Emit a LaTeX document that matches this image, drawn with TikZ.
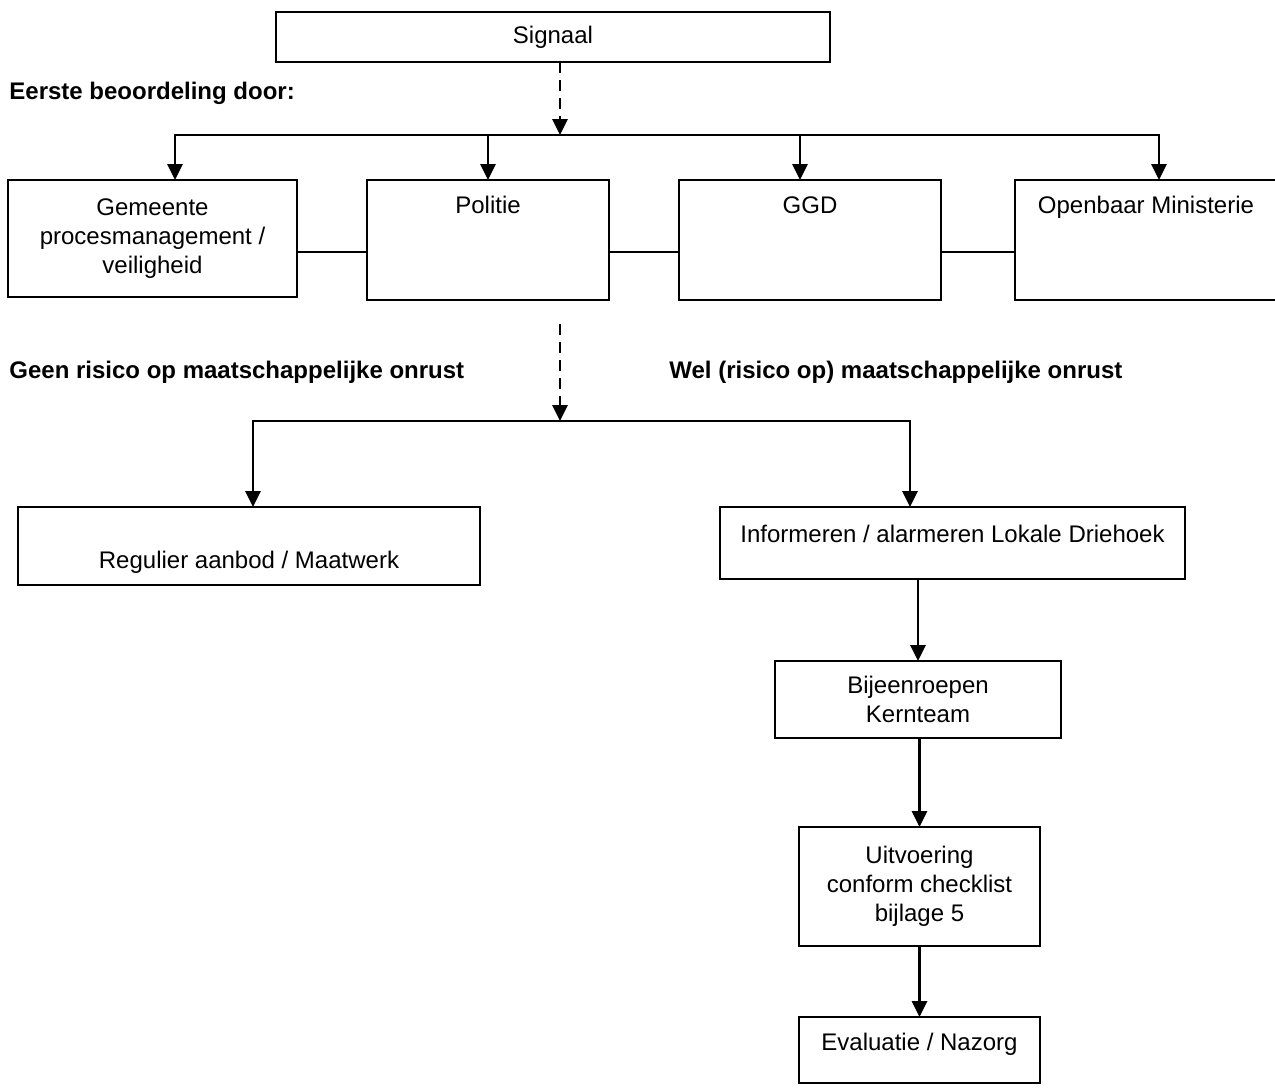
\documentclass[tikz,border=0pt]{standalone}
\usepackage{fontspec}
\setmainfont{Liberation Sans}
\usetikzlibrary{arrows,arrows.meta,positioning,calc}

\begin{document}
\begin{tikzpicture}[->,>={Triangle[width=7.5pt,length=8pt]},x=0.5pt,y=-0.5pt,
				line width=1.4pt]
				\tikzstyle{every node}=[font=\fontsize{12pt}{14.5pt}\selectfont]
				\tikzstyle{box}=[draw,line width=1pt,rectangle,anchor=north west,align=center,inner sep=0pt,outer sep=0pt]
				\tikzstyle{kop}=[anchor=west,inner sep=0pt,font=\fontsize{12pt}{14.5pt}\selectfont\bfseries]
				\tikzstyle{stip}=[dash pattern=on 5.5pt off 3.5pt]
				\useasboundingbox (0,0) rectangle (1275,1088);
				
				\node[box,minimum width=277pt,minimum height=25pt]    (signaal) at (276,12) {Signaal};
				\node[box,minimum width=144.5pt,minimum height=58.5pt] (gemeente) at (8,180) {Gemeente\\procesmanagement /\\veiligheid};
				\node[box,minimum width=121pt,minimum height=60pt]    (politie) at (367,180) {Politie\\~\\[6pt]~};
				\node[box,minimum width=131pt,minimum height=60pt]    (ggd) at (679,180) {GGD\\~\\[6pt]~};
				\node[box,minimum width=131pt,minimum height=60pt]    (om) at (1015,180) {Openbaar Ministerie\\~\\[6pt]~};
				\node[box,minimum width=231pt,minimum height=39pt]    (regulier) at (18,507) {\strut\\Regulier aanbod / Maatwerk};
				\node[box,minimum width=232.5pt,minimum height=36pt]  (driehoek) at (720,507) {Informeren / alarmeren Lokale Driehoek\\[-5pt]~};
				\node[box,minimum width=143pt,minimum height=38.5pt]  (kernteam) at (775,661) {Bijeenroepen\\Kernteam};
				\node[box,minimum width=120.5pt,minimum height=59.5pt] (uitvoering) at (799,827) {Uitvoering\\conform checklist\\bijlage 5};
				\node[box,minimum width=120.5pt,minimum height=33pt]  (evaluatie) at (799,1017) {Evaluatie / Nazorg\\[-6pt]~};
				
				\node[kop] (eerste) at (8,93) {Eerste beoordeling door:};
				\node[kop] (geen) at (8,372) {Geen risico op maatschappelijke onrust};
				\node[kop] (wel) at (668,372) {Wel (risico op) maatschappelijke onrust};
				
				\coordinate (split1) at (560,135);
				\coordinate (onrust) at (560,324);
				\coordinate (split2) at (560,421);
				
				\draw[stip] (signaal.south -| split1) -- (split1);
				\draw (split1) -| ([xshift=11.25pt]gemeente.north);
				\draw (split1) -| (politie.north);
				\draw (split1) -| ([xshift=-5pt]ggd.north);
				\draw (split1) -| ([xshift=6.5pt]om.north);
				
				\path[-] ($(politie.west)+(0,12)$) edge ($(gemeente.east |- politie.west)+(0,12)$)
				($(ggd.west)+(0,12)$) edge ($(politie.east |- ggd.west)+(0,12)$)
				($(om.west)+(0,12)$) edge ($(ggd.east |- om.west)+(0,12)$);
				
				\draw[stip] (onrust) -- (split2);
				\draw (split2) -| ([xshift=2pt]regulier.north);
				\draw (split2) -| ([xshift=-21.25pt]driehoek.north);
				
				\path (kernteam.north |- driehoek.south) edge (kernteam.north)
				(uitvoering.north |- kernteam.south) edge (uitvoering.north)
				(evaluatie.north |- uitvoering.south) edge (evaluatie.north);
			\end{tikzpicture}
\end{document}
